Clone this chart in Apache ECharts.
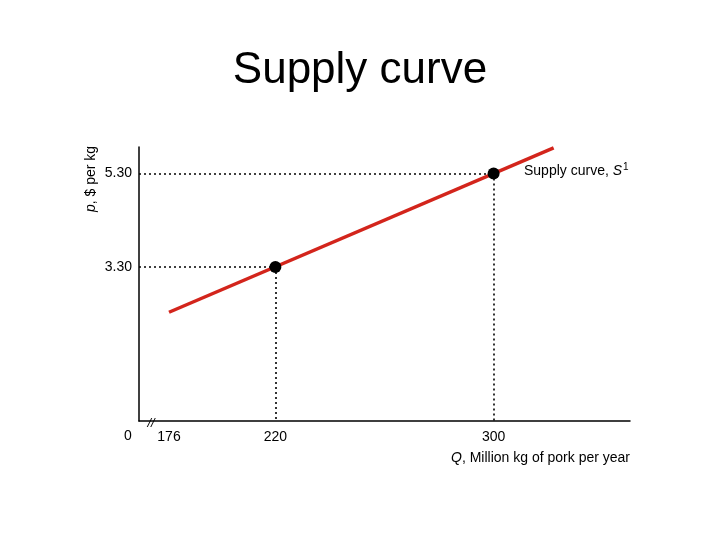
<!DOCTYPE html>
<html>
<head>
<meta charset="utf-8">
<script src="https://cdn.jsdelivr.net/npm/echarts@6/dist/echarts.min.js"></script>
<style>
  html, body { margin: 0; padding: 0; background: #fff; }
  #chart { width: 720px; height: 540px; }
</style>
</head>
<body>
<div id="chart"></div>
<script>
// supply line ends and the two marked points (Q, p)
const supplyLine = [[181, 2.33], [322, 5.85]]
const points = [[220, 3.3], [300, 5.3]]
// tick labels
const xTickValues = [181, 220, 300]
const xTickLabels = ['176', '220', '300']
const yTickValues = [3.3, 5.3]
const yTickLabels = ['3.30', '5.30']

const font = 'Liberation Sans, Arial, sans-serif'
const xMin = 170
const xMax = 350

// dotted guides from each point to both axes
const guides = []
points.forEach((p) => {
  guides.push([{ coord: [xMin, p[1]] }, { coord: [p[0], p[1]] }])
  guides.push([{ coord: [p[0], p[1]] }, { coord: [p[0], 0] }])
})

const chart = echarts.init(document.getElementById('chart'))
chart.setOption({
  animation: false,
  title: {
    text: 'Supply curve',
    left: 'center',
    top: 44,
    textStyle: { fontFamily: font, fontSize: 44, fontWeight: 'normal', color: '#000' },
  },
  grid: { left: 139, right: 90, top: 147, bottom: 119 },
  xAxis: {
    type: 'value',
    min: xMin,
    max: xMax,
    splitLine: { show: false },
    axisTick: { show: false },
    axisLine: { lineStyle: { color: '#000', width: 1.5 } },
    axisLabel: {
      customValues: xTickValues,
      formatter: (v) => xTickLabels[xTickValues.indexOf(v)],
      fontFamily: font,
      fontSize: 14,
      color: '#000',
      margin: 9,
    },
  },
  yAxis: {
    type: 'value',
    min: 0,
    max: 5.87,
    splitLine: { show: false },
    axisTick: { show: false },
    axisLine: { show: true, lineStyle: { color: '#000', width: 1.5 } },
    axisLabel: {
      customValues: yTickValues,
      formatter: (v) => yTickLabels[yTickValues.indexOf(v)],
      fontFamily: font,
      fontSize: 14,
      color: '#000',
      margin: 7,
    },
  },
  series: [
    {
      type: 'line',
      data: supplyLine,
      symbol: 'none',
      lineStyle: { color: '#d3251c', width: 3.5 },
      z: 3,
    },
    {
      type: 'scatter',
      data: points,
      symbolSize: 12,
      itemStyle: { color: '#000', opacity: 1 },
      z: 4,
      markLine: {
        silent: true,
        symbol: 'none',
        label: { show: false },
        lineStyle: { color: '#000', type: [2, 3], width: 1.6, opacity: 1 },
        data: guides,
      },
    },
  ],
  graphic: [
    {
      type: 'text',
      x: 91,
      y: 179,
      rotation: Math.PI / 2,
      style: {
        text: '{i|p}, $ per kg',
        font: '14px ' + font,
        fill: '#000',
        align: 'center',
        verticalAlign: 'middle',
        rich: { i: { fontStyle: 'italic', fontFamily: font, fontSize: 14 } },
      },
    },
    {
      type: 'text',
      x: 630,
      y: 458,
      style: {
        text: '{i|Q}, Million kg of pork per year',
        font: '14px ' + font,
        fill: '#000',
        align: 'right',
        verticalAlign: 'middle',
        rich: { i: { fontStyle: 'italic', fontFamily: font, fontSize: 14 } },
      },
    },
    {
      type: 'text',
      x: 524,
      y: 171,
      style: {
        text: 'Supply curve, {i|S}{s|1}',
        font: '14px ' + font,
        fill: '#000',
        align: 'left',
        verticalAlign: 'middle',
        rich: {
          i: { fontStyle: 'italic', fontFamily: font, fontSize: 14 },
          s: { fontFamily: font, fontSize: 10, verticalAlign: 'top', padding: [0, 0, 8, 1] },
        },
      },
    },
    {
      type: 'text',
      x: 128,
      y: 436,
      style: { text: '0', font: '14px ' + font, fill: '#000', align: 'center', verticalAlign: 'middle' },
    },
    {
      type: 'text',
      x: 151,
      y: 423,
      style: { text: '//', font: 'italic 13px ' + font, fill: '#000', align: 'center', verticalAlign: 'middle' },
    },
  ],
})
</script>
</body>
</html>
